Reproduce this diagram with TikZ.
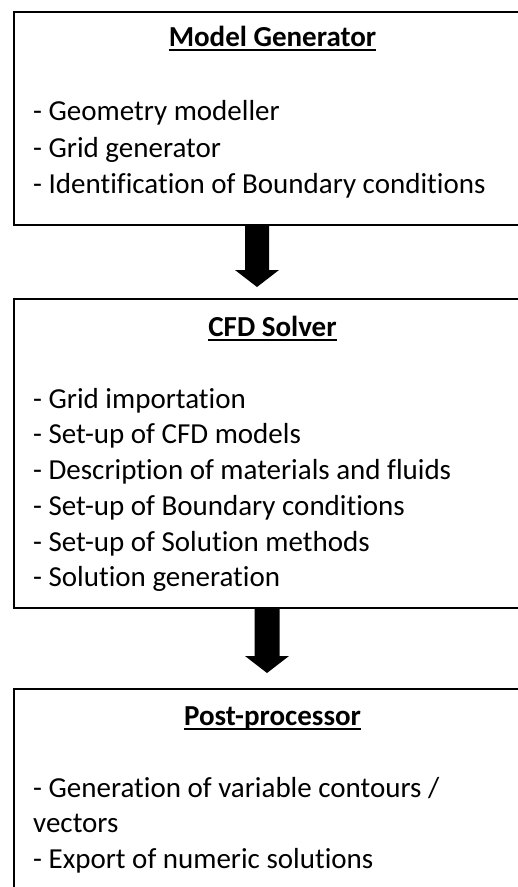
\documentclass[tikz,border=0pt]{standalone}
\usepackage{fontspec}
\setmainfont{Carlito}[Ligatures={NoCommon,TeX}]
\usetikzlibrary{calc}
\begin{document}
\begin{tikzpicture}[x=1pt,y=-1pt,
  box/.style={draw, line width=2pt, anchor=north west, inner sep=0pt, minimum width=519.5pt},
  ttl/.style={font=\fontsize{29}{35}\selectfont\bfseries, anchor=base, inner sep=0pt},
  item/.style={font=\fontsize{29}{35}\selectfont, anchor=base west, inner sep=0pt},
  uline/.style={line width=1.8pt},
  bigarrow/.style={fill=black}]
\useasboundingbox (0,0) rectangle (518,887);
\clip (0,0) rectangle (518,887);
% boxes
\node[box, minimum height=212.5pt] (b1) at (12.5,11) {};
\node[box, minimum height=309pt] (b2) at (12.5,298) {};
\node[box, minimum height=240pt] (b3) at (12.5,688) {};
% titles
\node[ttl] (t1) at (272.5,46.7) {Model Generator};
\node[ttl] (t2) at (272.5,336.7) {CFD Solver};
\node[ttl] (t3) at (272.5,725) {Post-processor};
\foreach \n in {t1,t2,t3}
  \draw[uline] ($(\n.base west)+(0,3.6)$) -- ($(\n.base east)+(0,3.6)$);
% items
\foreach \t [count=\i] in {{- Geometry modeller},{- Grid generator},{- Identification of Boundary conditions}}
  \node[item] (m\i) at (33,{120.7+(\i-1)*36.3}) {\t};
\foreach \t [count=\i] in {{- Grid importation},{- Set-up of CFD models},{- Description of materials and fluids},{- Set-up of Boundary conditions},{- Set-up of Solution methods},{- Solution generation}}
  \node[item] (c\i) at (33,{408+(\i-1)*35.75}) {\t};
\foreach \t [count=\i] in {{- Generation of variable contours /},{vectors},{- Export of numeric solutions}}
  \node[item] (p\i) at (33,{797.3+(\i-1)*35.5}) {\t};
% arrows
\coordinate (a1t) at (257,287);
\coordinate (a1s) at (b1.south -| a1t);
\fill[bigarrow] ($(a1s)+(-12,0)$) -- ($(a1s)+(12,0)$) -- ($(a1t)+(12,-17)$) -- ($(a1t)+(22,-17)$) -- (a1t) -- ($(a1t)+(-22,-17)$) -- ($(a1t)+(-12,-17)$) -- cycle;
\coordinate (a2t) at (267,673);
\coordinate (a2s) at (b2.south -| a2t);
\fill[bigarrow] ($(a2s)+(-12.5,0)$) -- ($(a2s)+(12.5,0)$) -- ($(a2t)+(12.5,-17)$) -- ($(a2t)+(22,-17)$) -- (a2t) -- ($(a2t)+(-22,-17)$) -- ($(a2t)+(-12.5,-17)$) -- cycle;
\end{tikzpicture}
\end{document}
